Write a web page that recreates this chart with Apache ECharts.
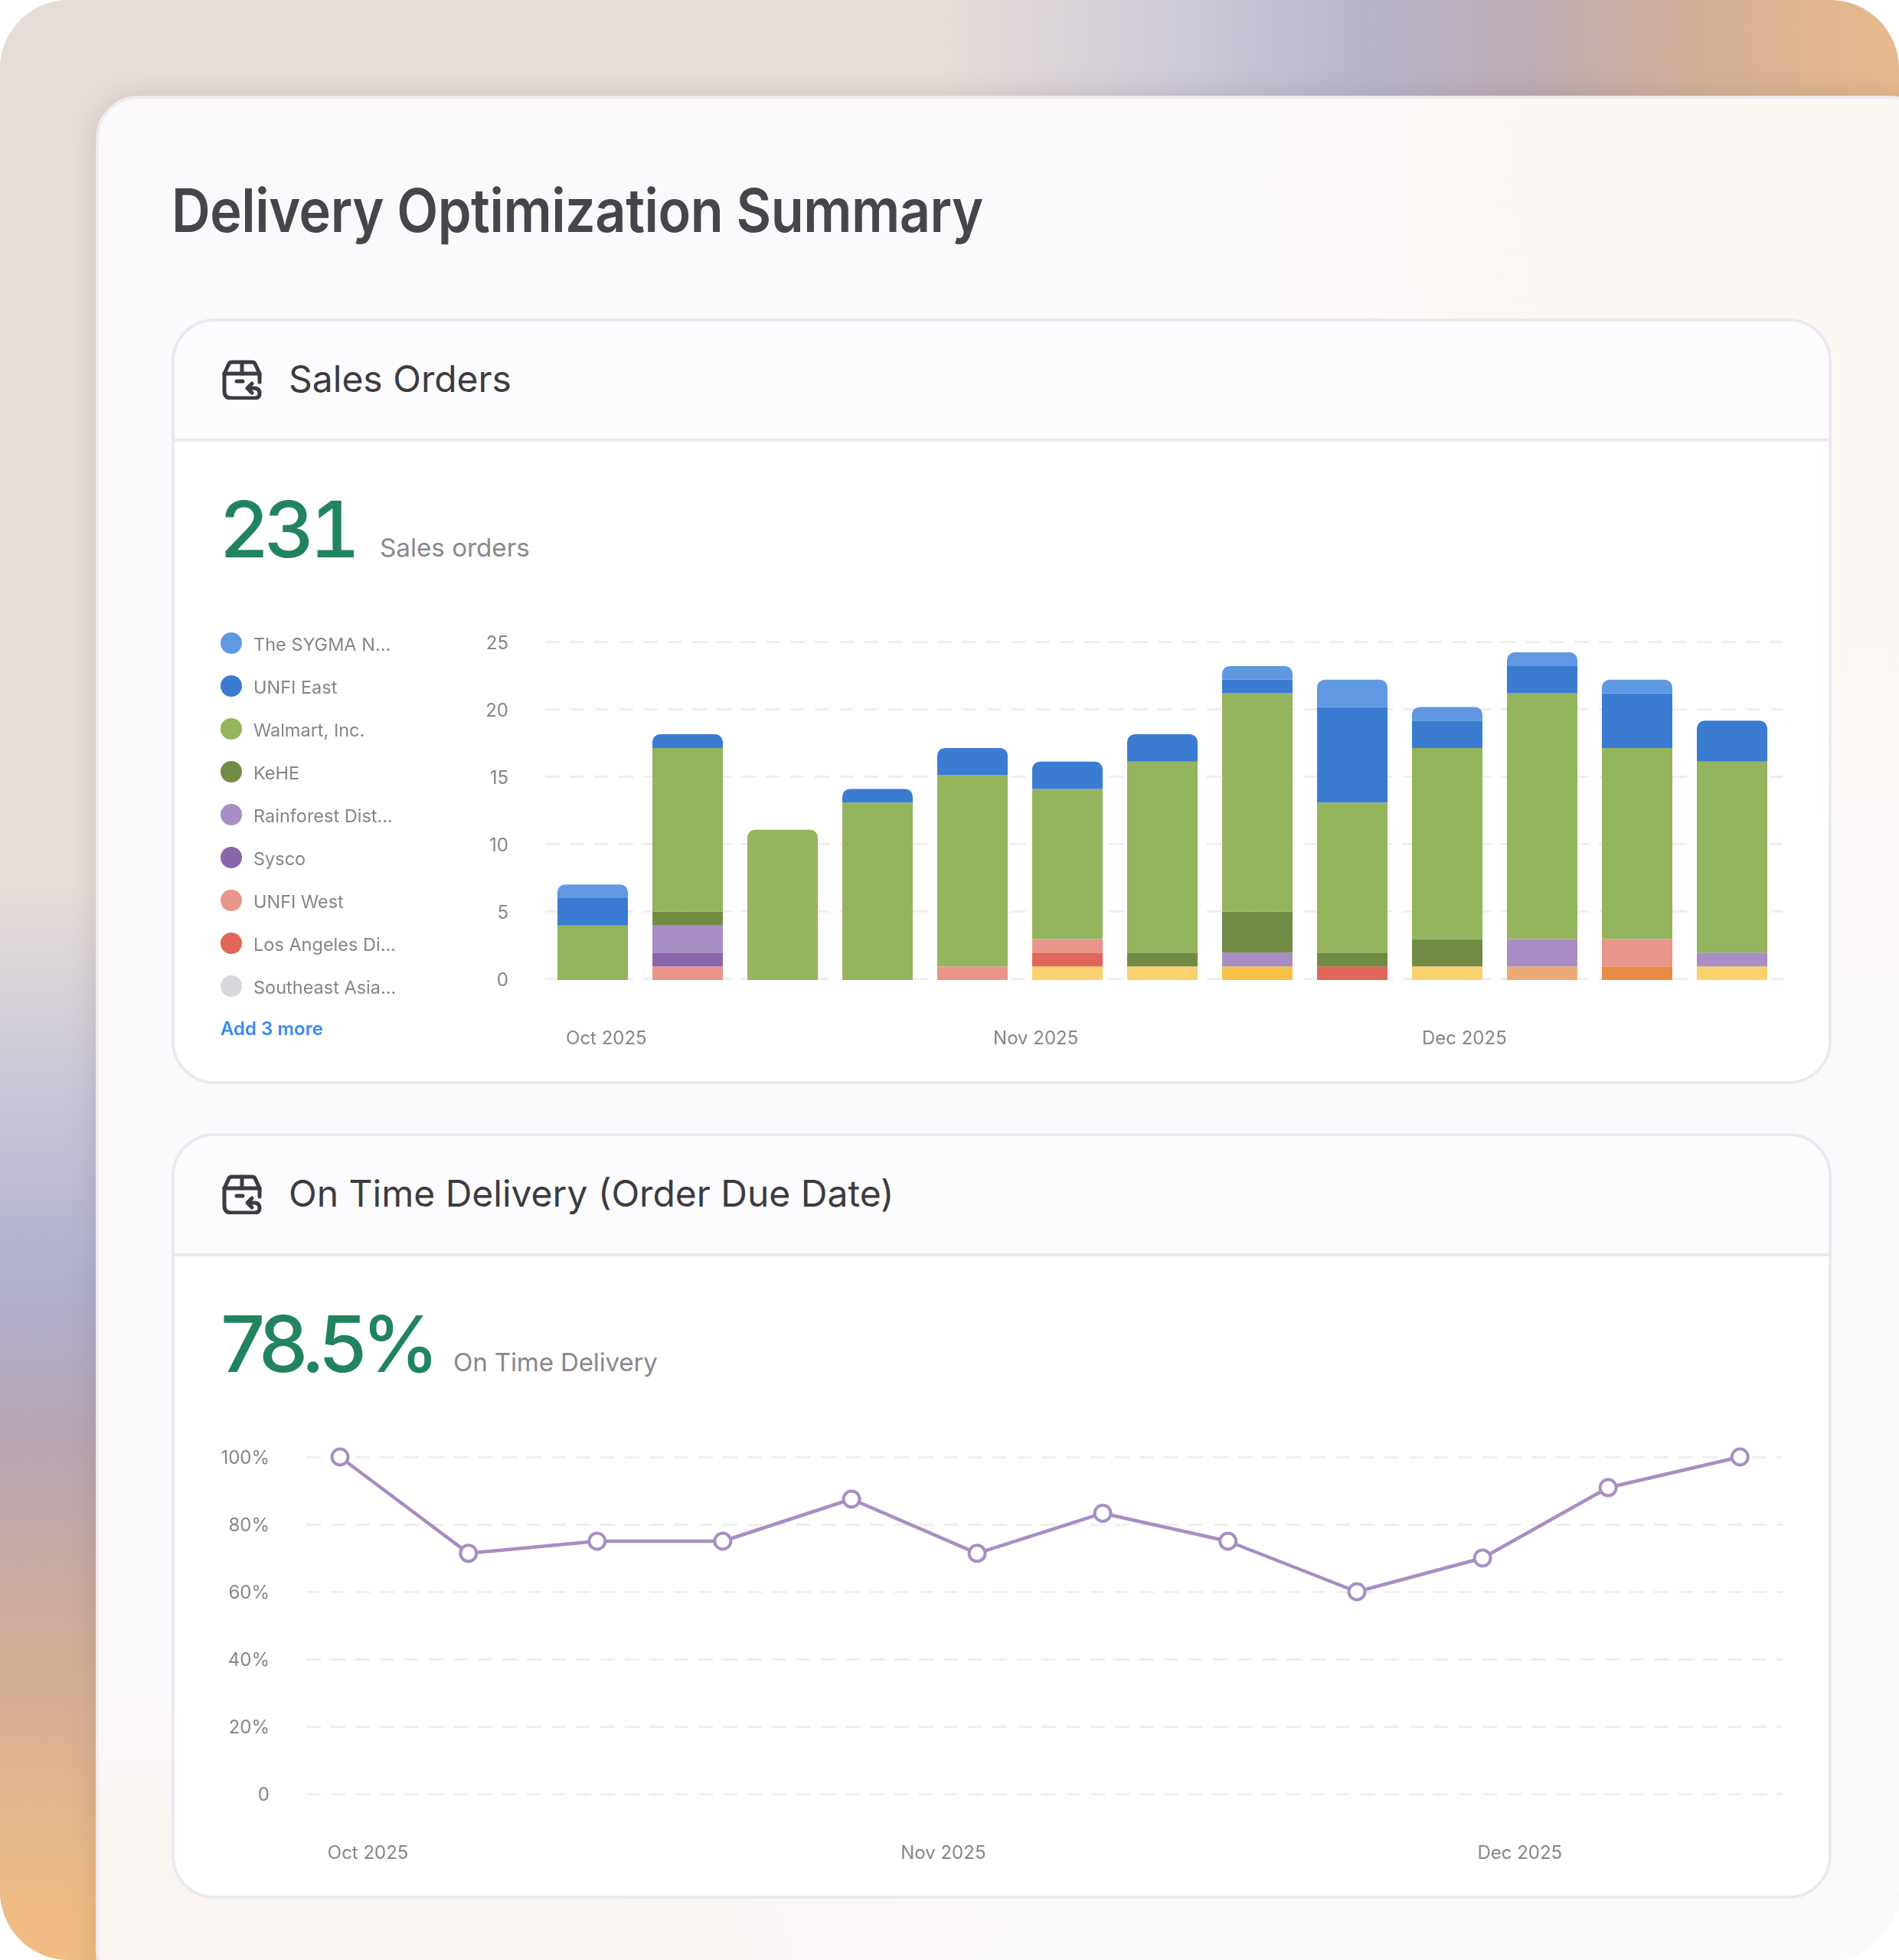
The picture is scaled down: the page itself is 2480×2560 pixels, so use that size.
<!DOCTYPE html>
<html>
<head>
<meta charset="utf-8">
<title>Delivery Optimization Summary</title>
<script src="https://cdn.jsdelivr.net/npm/echarts@6/dist/echarts.min.js"></script>
<style>
html, body { margin: 0; padding: 0; background: #fff; }
body { width: 2480px; height: 2560px; overflow: hidden; font-family: Inter, "Noto Sans", sans-serif; }
#frame { position: absolute; left: 0; top: 0; width: 2480px; height: 2560px; border-radius: 90px; overflow: hidden;
	background: #e7ddd8; }
#strip_top { position: absolute; left: 0; top: 0; width: 2480px; height: 130px;
	background: linear-gradient(90deg, #e7ddd8 0, #e7ddd8 1220px, #cdc9d8 1560px, #b8b5cb 1780px, #bdacb4 2000px, #d5b196 2240px, #e8b98c 2480px); }
#strip_left { position: absolute; left: 0; top: 0; width: 130px; height: 2560px;
	background: linear-gradient(180deg, #e7ddd8 0, #e7ddd8 1150px, #c7c6d8 1440px, #b0afcd 1680px, #b7a6b3 1880px, #d3ae96 2180px, #f0bc84 2500px); }
#panel { position: absolute; left: 125px; top: 125px; width: 2400px; height: 2480px; box-sizing: border-box;
	border-radius: 56px; border: 4px solid #eeeaed;
	box-shadow: 0 0 36px rgba(90, 70, 70, .18);
	background:
		radial-gradient(800px 1100px at 2300px 100px, #fbf7f3 55%, rgba(251,247,243,0) 100%),
		radial-gradient(1100px 340px at 100px 2420px, #faf5f1 45%, rgba(250,245,241,0) 100%),
		#fcf9fc; }
.card { position: absolute; left: 224px; width: 2168px; height: 1000px; box-sizing: border-box; background: #fff;
	border: 4px solid #ebe9ee; border-radius: 56px; overflow: hidden; }
.card_head { height: 153px; background: #fcfbfd; border-bottom: 4px solid #ebe9ee; }
.txt { position: absolute; line-height: 1; white-space: nowrap; }
.page_title { font-size: 78px; font-weight: 600; color: #47454a; letter-spacing: -0.5px; transform: scaleX(.9); transform-origin: 0 0; }
.card_title { font-size: 48px; font-weight: 420; color: #3d3b40; }
.kpi { font-size: 102px; font-weight: 550; color: #22845e; }
.kpi_sub { font-size: 33.2px; color: #8a888e; }
.more { font-size: 24px; font-weight: 600; color: #3b8beb; }
.icon { position: absolute; left: 290px; width: 52px; height: 52px; fill: none; stroke: #3d3b40; stroke-width: 5; stroke-linecap: round; stroke-linejoin: round; }
.chart { position: absolute; left: 226px; width: 2164px; height: 620px; }
</style>
</head>
<body>
<div id="frame">
	<div id="strip_top"></div>
	<div id="strip_left"></div>
	<div id="panel"></div>
</div>

<div class="card" style="top:416px"><div class="card_head"></div></div>
<div class="card" style="top:1480px"><div class="card_head"></div></div>

<div class="txt page_title" style="left:224px;top:236px">Delivery Optimization Summary</div>

<svg class="icon" style="top:470px" viewBox="0 0 52 52"><path d="M3 18 L9 5 Q10 3 13 3 H39 Q42 3 43 5 L49 18 V29"/><path d="M3 18 V41 Q3 50 12 50 H42 Q49 50 49 44 Q49 37 42 37 H34"/><path d="M39 31 L33 37 L39 43"/><path d="M3 18 H49"/><path d="M26 3 V18"/><path d="M19 28 H27"/></svg>
<div class="txt card_title" style="left:377px;top:471px">Sales Orders</div>
<div class="txt kpi" style="left:286px;top:640px;font-feature-settings:'tnum';letter-spacing:-7px">231</div>
<div class="txt kpi_sub" style="left:496px;top:699px">Sales orders</div>

<svg class="icon" style="top:1534px" viewBox="0 0 52 52"><path d="M3 18 L9 5 Q10 3 13 3 H39 Q42 3 43 5 L49 18 V29"/><path d="M3 18 V41 Q3 50 12 50 H42 Q49 50 49 44 Q49 37 42 37 H34"/><path d="M39 31 L33 37 L39 43"/><path d="M3 18 H49"/><path d="M26 3 V18"/><path d="M19 28 H27"/></svg>
<div class="txt card_title" style="left:377px;top:1535px">On Time Delivery (Order Due Date)</div>
<div class="txt kpi" style="left:288px;top:1704px;letter-spacing:-6.8px">78.5%</div>
<div class="txt kpi_sub" style="left:592px;top:1763px;letter-spacing:-.2px">On Time Delivery</div>

<div id="chart_orders" class="chart" style="top:780px"></div>
<div id="chart_delivery" class="chart" style="top:1840px"></div>
<div class="txt more" style="left:288px;top:1332px">Add 3 more</div>

<script>
// orders per week, from bottom of the stack to the top
var ordersWeeks = ['W1','W2','W3','W4','W5','W6','W7','W8','W9','W10','W11','W12','W13'];
var otherYellow = [0,0,0,0,0,1,1,0,0,1,0,0,1];
var otherGold   = [0,0,0,0,0,0,0,1,0,0,0,0,0];
var otherPeach  = [0,0,0,0,0,0,0,0,0,0,1,0,0];
var otherOrange = [0,0,0,0,0,0,0,0,0,0,0,1,0];
var southeast   = [0,0,0,0,0,0,0,0,0,0,0,0,0];
var losAngeles  = [0,0,0,0,0,1,0,0,1,0,0,0,0];
var unfiWest    = [0,1,0,0,1,1,0,0,0,0,0,2,0];
var sysco       = [0,1,0,0,0,0,0,0,0,0,0,0,0];
var rainforest  = [0,2,0,0,0,0,0,1,0,0,2,0,1];
var kehe        = [0,1,0,0,0,0,1,3,1,2,0,0,0];
var walmart     = [4,12,11,13,14,11,14,16,11,14,18,14,14];
var unfiEast    = [2,1,0,1,2,2,2,1,7,2,2,4,3];
var sygma       = [1,0,0,0,0,0,0,1,2,1,1,1,0];

var legendNames = ['The SYGMA N...','UNFI East','Walmart, Inc.','KeHE','Rainforest Dist...','Sysco','UNFI West','Los Angeles Di...','Southeast Asia...'];

// month labels sit between the weeks, position is in week units
var monthLabels = ['Oct 2025','Nov 2025','Dec 2025'];
var ordersMonthPos = [0.144,4.667,9.18];
var deliveryMonthPos = [0.22,4.74,9.27];

// the points are not quite evenly spaced in the picture
var onTimeWeek = [0,1.009,2.02,3.007,4.019,5.006,5.993,6.977,7.99,8.977,9.964,11];
var onTimePct = [100,71.4,75,75,87.5,71.4,83.3,75,60,70,90.9,100];

var gridLine = {show:true, lineStyle:{color:'#efeef1', width:3, type:[19,13]}};
var axisText = {color:'#87858a', fontSize:24, fontFamily:'Inter'};

// plain padding does not move a label here, a rich token does
function tickLabel(offset){
	return {
		margin:48,
		rich:{t:{color:axisText.color, fontSize:axisText.fontSize, fontFamily:axisText.fontFamily, padding:[offset,0,0,0]}},
		formatter:function(v){ return '{t|' + v + '}'; }
	};
}

function getOrderSeries(){
	var list = [
		{name:'Other 1', data:otherYellow, color:'#f9d16e'},
		{name:'Other 2', data:otherGold, color:'#f5c147'},
		{name:'Other 3', data:otherPeach, color:'#eeaa76'},
		{name:'Other 4', data:otherOrange, color:'#e88c45'},
		{name:'Southeast Asia...', data:southeast, color:'#d9d7db'},
		{name:'Los Angeles Di...', data:losAngeles, color:'#e0665a'},
		{name:'UNFI West', data:unfiWest, color:'#e9958c'},
		{name:'Sysco', data:sysco, color:'#8966ac'},
		{name:'Rainforest Dist...', data:rainforest, color:'#a88ec4'},
		{name:'KeHE', data:kehe, color:'#718b45'},
		{name:'Walmart, Inc.', data:walmart, color:'#94b45e'},
		{name:'UNFI East', data:unfiEast, color:'#3b7cd2'},
		{name:'The SYGMA N...', data:sygma, color:'#6098e2'}
	];
	var series = [];
	for(var i=0; i<list.length; i++){
		var data = [];
		for(var j=0; j<list[i].data.length; j++){
			// only the top piece of a bar gets round corners
			var isTop = true;
			for(var k=i+1; k<list.length; k++){
				if(list[k].data[j] > 0) isTop = false;
			}
			data.push({
				value:list[i].data[j] > 0 ? list[i].data[j] : null,
				itemStyle:{borderRadius: isTop ? [10,10,0,0] : 0}
			});
		}
		series.push({
			name:list[i].name,
			type:'bar',
			stack:'orders',
			xAxisIndex:0,
			yAxisIndex:0,
			barWidth:92,
			itemStyle:{color:list[i].color},
			data:data
		});
	}
	return series;
}

var ordersChart = echarts.init(document.getElementById('chart_orders'));
ordersChart.setOption({
	animation:false,
	legend:{
		data:legendNames,
		orient:'vertical',
		left:62,
		top:46,
		padding:0,
		icon:'circle',
		itemWidth:28,
		itemHeight:28,
		itemGap:27,
		selectedMode:false,
		formatter:function(name){ return '{t|' + name + '}'; },
		textStyle:{
			rich:{t:{color:'#86848a', fontSize:23.5, fontFamily:'Inter', padding:[6,0,0,10]}}
		}
	},
	// grid 0 holds the bars, grid 1 the printed ticks: the bars run a touch
	// taller than the ticks in the picture and the dashes run past the last bar
	grid:[
		{left:486, top:58, width:1612, height:442},
		{left:486, top:58, width:1616, height:440}
	],
	xAxis:[
		{gridIndex:0, type:'category', data:ordersWeeks, show:false},
		{
			gridIndex:1, type:'value', min:-0.5, max:12.532,
			splitLine:{show:false}, axisLine:{show:false}, axisTick:{show:false},
			axisLabel:{
				color:axisText.color, fontSize:axisText.fontSize, fontFamily:axisText.fontFamily,
				margin:67, customValues:ordersMonthPos,
				formatter:function(v){ return monthLabels[ordersMonthPos.indexOf(v)]; }
			}
		}
	],
	yAxis:[
		{gridIndex:0, type:'value', min:0, max:24.79, show:false, splitLine:{show:false}},
		{
			gridIndex:1, type:'value', min:0, max:25, interval:5,
			axisLine:{show:false}, axisTick:{show:false},
			splitLine:gridLine,
			axisLabel:tickLabel(6)
		}
	],
	series:getOrderSeries()
});

var onTimePoints = [];
for(var i=0; i<onTimePct.length; i++){
	onTimePoints.push([onTimeWeek[i], onTimePct[i]]);
}

var pctLabel = tickLabel(4);
pctLabel.formatter = function(v){ return '{t|' + (v === 0 ? '0' : v + '%') + '}'; };

var deliveryChart = echarts.init(document.getElementById('chart_delivery'));
deliveryChart.setOption({
	animation:false,
	grid:{left:174, top:63, width:1928, height:440},
	xAxis:{
		type:'value', min:-0.265, max:11.335,
		splitLine:{show:false}, axisLine:{show:false}, axisTick:{show:false},
		axisLabel:{
			color:axisText.color, fontSize:axisText.fontSize, fontFamily:axisText.fontFamily,
			margin:66, customValues:deliveryMonthPos,
			formatter:function(v){ return monthLabels[deliveryMonthPos.indexOf(v)]; }
		}
	},
	yAxis:{
		type:'value', min:0, max:100, interval:20,
		axisLine:{show:false}, axisTick:{show:false},
		splitLine:gridLine,
		axisLabel:pctLabel
	},
	series:[{
		name:'On Time Delivery',
		type:'line',
		clip:false,
		symbol:'circle',
		symbolSize:21,
		lineStyle:{color:'#a88ec4', width:4.5},
		itemStyle:{color:'#fff', borderColor:'#a88ec4', borderWidth:4},
		data:onTimePoints
	}]
});
</script>
</body>
</html>
